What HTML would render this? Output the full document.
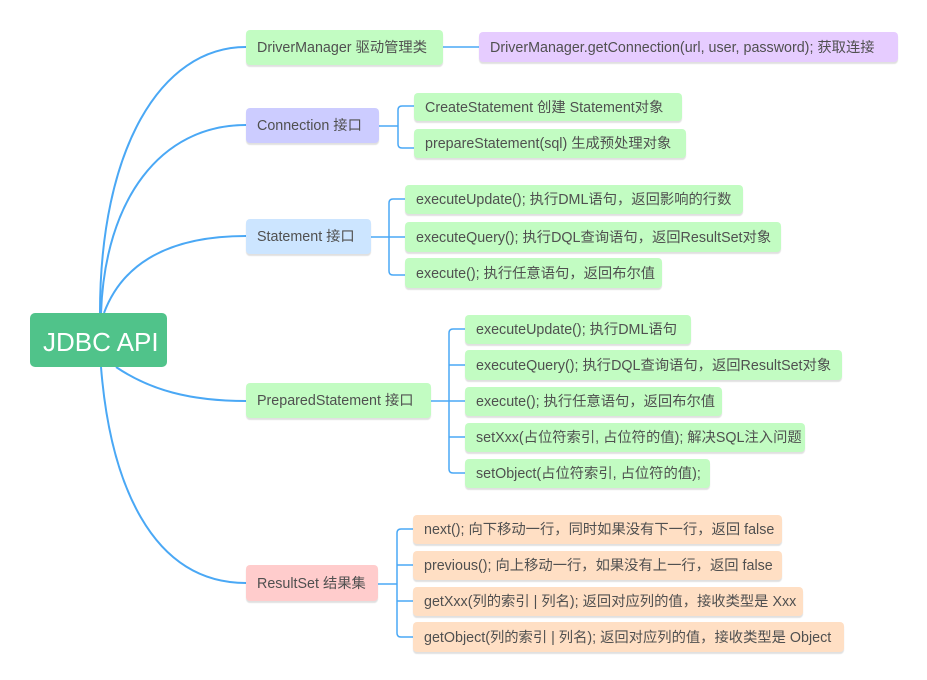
<!DOCTYPE html>
<html><head><meta charset="utf-8"><style>
html,body{margin:0;padding:0;background:#fff;}
body{width:927px;height:680px;position:relative;overflow:hidden;font-family:"Liberation Sans","Noto Sans CJK SC",sans-serif;}
.b{position:absolute;box-sizing:border-box;border-radius:4px;font-size:14.3px;line-height:1;color:#505050;padding-left:11px;padding-top:2px;white-space:nowrap;box-shadow:0 2px 1px rgba(0,0,0,0.12);overflow:hidden;display:flex;align-items:center;}
.g{background:#c2fcc2;}
.p{background:#ccccff;}
.s{background:#cce5ff;}
.r{background:#ffcccc;}
.o{background:#ffdfc4;}
.v{background:#e6ccff;}
svg{position:absolute;left:0;top:0;}
</style></head><body>
<svg width="927" height="680" fill="none" stroke="#4aa8f5" stroke-width="2">
<path d="M100 313 C100 150 160 47 246 47"/>
<path d="M101 313 C105 200 160 125 246 125"/>
<path d="M104 313 C120 270 160 236 246 236"/>
<path d="M116 367 C150 390 190 401 246 401"/>
<path d="M101 367 C110 480 150 583 246 583"/>
<g stroke-width="1.5">
<path d="M443 47 H479"/>
<path d="M379 126 H398 M398 110 V144 M398 110 Q398 106 402 106 H414 M398 144 Q398 148 402 148 H414"/>
<path d="M371 237 H389 M389 203 V271 M389 203 Q389 199 393 199 H405 M389 237 H405 M389 271 Q389 275 393 275 H405"/>
<path d="M431 401 H449 M449 333 V469 M449 333 Q449 329 453 329 H465 M449 365 H465 M449 401 H465 M449 437 H465 M449 469 Q449 473 453 473 H465"/>
<path d="M378 584 H397 M397 533 V633 M397 533 Q397 529 401 529 H413 M397 565 H413 M397 601 H413 M397 633 Q397 637 401 637 H413"/>
</g>
</svg>
<div class="b" style="left:30px;top:313px;width:137px;height:54px;background:#50c38a;color:#fff;font-size:26px;padding-left:13px;padding-top:3px;box-shadow:none;border-radius:5px">JDBC API</div>

<div class="b g" style="left:246px;top:30px;width:197px;height:35px">DriverManager 驱动管理类</div>
<div class="b v" style="left:479px;top:32px;width:419px;height:30px">DriverManager.getConnection(url, user, password); 获取连接</div>

<div class="b p" style="left:246px;top:108px;width:133px;height:35px">Connection 接口</div>
<div class="b g" style="left:414px;top:93px;width:268px;height:28px">CreateStatement 创建 Statement对象</div>
<div class="b g" style="left:414px;top:129px;width:272px;height:29px">prepareStatement(sql) 生成预处理对象</div>

<div class="b s" style="left:246px;top:219px;width:125px;height:35px">Statement 接口</div>
<div class="b g" style="left:405px;top:185px;width:338px;height:29px">executeUpdate(); 执行DML语句，返回影响的行数</div>
<div class="b g" style="left:405px;top:222px;width:376px;height:30px">executeQuery(); 执行DQL查询语句，返回ResultSet对象</div>
<div class="b g" style="left:405px;top:258px;width:257px;height:30px">execute(); 执行任意语句，返回布尔值</div>

<div class="b g" style="left:246px;top:383px;width:185px;height:35px">PreparedStatement 接口</div>
<div class="b g" style="left:465px;top:315px;width:226px;height:29px">executeUpdate(); 执行DML语句</div>
<div class="b g" style="left:465px;top:350px;width:377px;height:30px">executeQuery(); 执行DQL查询语句，返回ResultSet对象</div>
<div class="b g" style="left:465px;top:387px;width:257px;height:29px">execute(); 执行任意语句，返回布尔值</div>
<div class="b g" style="left:465px;top:423px;width:340px;height:29px">setXxx(占位符索引, 占位符的值); 解决SQL注入问题</div>
<div class="b g" style="left:465px;top:459px;width:245px;height:29px">setObject(占位符索引, 占位符的值);</div>

<div class="b r" style="left:246px;top:565px;width:132px;height:36px">ResultSet 结果集</div>
<div class="b o" style="left:413px;top:515px;width:369px;height:29px">next(); 向下移动一行，同时如果没有下一行，返回 false</div>
<div class="b o" style="left:413px;top:551px;width:369px;height:29px">previous(); 向上移动一行，如果没有上一行，返回 false</div>
<div class="b o" style="left:413px;top:587px;width:390px;height:29px">getXxx(列的索引 | 列名); 返回对应列的值，接收类型是 Xxx</div>
<div class="b o" style="left:413px;top:622px;width:431px;height:30px">getObject(列的索引 | 列名); 返回对应列的值，接收类型是 Object</div>
</body></html>
